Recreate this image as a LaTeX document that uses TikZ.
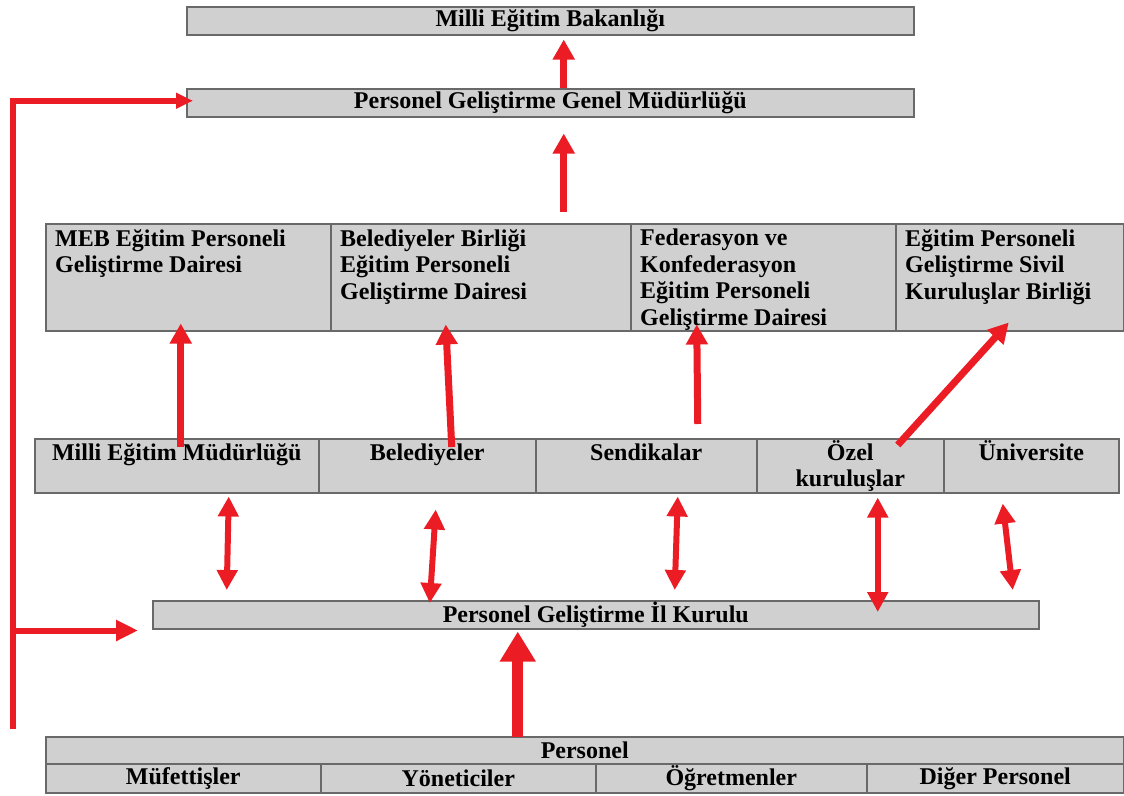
\documentclass[tikz,border=0pt]{standalone}
\usepackage{fontspec}
\setmainfont{Liberation Serif}
\usepackage{tikz}
\usetikzlibrary{arrows.meta,calc}

\definecolor{boxgray}{RGB}{208,208,208}
\definecolor{boxline}{RGB}{105,105,105}
\definecolor{arrowred}{RGB}{236,28,36}

\tikzset{
  cell/.style={draw=boxline, line width=1.5pt, fill=boxgray, anchor=north west,
    inner sep=0pt, font=\fontsize{24}{27}\selectfont\bfseries},
  celltext/.style={inner sep=0pt, align=left, font=\fontsize{24}{26.5}\selectfont\bfseries},
  up/.style={arrowred, line width=7pt, -{Triangle[width=21pt,length=20pt]}},
  both/.style={arrowred, line width=6pt,
    {Triangle[width=20pt,length=20pt]}-{Triangle[width=20pt,length=20pt]}},
  feed/.style={arrowred, line width=6pt},
}

\begin{document}
\begin{tikzpicture}[x=1pt, y=-1pt]
  \useasboundingbox (0,0) rectangle (1124,795);

  % top boxes
  \node[cell, minimum width=727pt, minimum height=28pt] (bak) at (186,6) {Milli Eğitim Bakanlığı};
  \node[cell, minimum width=727pt, minimum height=28pt] (pggm) at (186,88) {Personel Geliştirme Genel Müdürlüğü};

  % departments
  \node[cell, minimum width=285pt, minimum height=107pt] (dmeb) at (45,223) {};
  \node[cell, minimum width=300pt, minimum height=107pt] (dbel) at (330,223) {};
  \node[cell, minimum width=265pt, minimum height=107pt] (dfed) at (630,223) {};
  \node[cell, minimum width=228pt, minimum height=107pt] (dsiv) at (895,223) {};
  \node[celltext, anchor=north west] (dmeb-t) at ($(dmeb.north west)+(10,6)$) {MEB Eğitim Personeli\\Geliştirme Dairesi};
  \node[celltext, anchor=north west] (dbel-t) at ($(dbel.north west)+(10,6)$) {Belediyeler Birliği\\Eğitim Personeli\\Geliştirme Dairesi};
  \node[celltext, anchor=north west] (dfed-t) at ($(dfed.north west)+(10,6)$) {Federasyon ve\\Konfederasyon\\Eğitim Personeli\\Geliştirme Dairesi};
  \node[celltext, anchor=north west] (dsiv-t) at ($(dsiv.north west)+(10,6)$) {Eğitim Personeli\\Geliştirme Sivil\\Kuruluşlar Birliği};

  % local bodies
  \node[cell, minimum width=284pt, minimum height=54pt] (mem) at (34,438) {};
  \node[cell, minimum width=217pt, minimum height=54pt] (bel) at (318,438) {};
  \node[cell, minimum width=221pt, minimum height=54pt] (sen) at (535,438) {};
  \node[cell, minimum width=187pt, minimum height=54pt] (ozel) at (756,438) {};
  \node[cell, minimum width=175pt, minimum height=54pt] (uni) at (943,438) {};
  \node[celltext, anchor=north] (mem-t) at ($(mem.north)+(0,5.5)$) {Milli Eğitim Müdürlüğü};
  \node[celltext, anchor=north] (bel-t) at ($(bel.north)+(0,5.5)$) {Belediyeler};
  \node[celltext, anchor=north] (sen-t) at ($(sen.north)+(0,5.5)$) {Sendikalar};
  \node[celltext, anchor=north, align=center] (ozel-t) at ($(ozel.north)+(0,2)$) {Özel\\kuruluşlar};
  \node[celltext, anchor=north] (uni-t) at ($(uni.north)+(0,2)$) {Üniversite};

  % provincial board
  \node[cell, minimum width=886pt, minimum height=28pt] (ilk) at (152,600) {Personel Geliştirme İl Kurulu};

  % staff
  \node[cell, minimum width=1078pt, minimum height=27pt] (per) at (45,736) {Personel};
  \node[cell, minimum width=275pt, minimum height=29pt] (muf) at (45,763) {Müfettişler};
  \node[cell, minimum width=275pt, minimum height=29pt] (yon) at (320,763) {Yöneticiler};
  \node[cell, minimum width=271pt, minimum height=29pt] (ogr) at (595,763) {Öğretmenler};
  \node[cell, minimum width=257pt, minimum height=29pt] (dig) at (866,763) {Diğer Personel};

  % upward arrows
  \draw[up] ($(pggm.north)+(13.5,0)$) -- ($(bak.south)+(13.5,4)$);
  \draw[up] ($(dbel.north)+(83,-11)$) -- ($(pggm.south)+(13.5,16)$);
  \draw[up] ($(mem.north)+(4,9)$) -- ($(dmeb.south)+(-7.5,-8)$);
  \draw[up] ($(bel.north)+(24.5,9)$) -- ($(dbel.south)+(-35,-7)$);
  \draw[up] ($(sen.north)+(51.5,-14)$) -- ($(dfed.south)+(-66.5,-7)$);
  \draw[up] ($(ozel.north)+(47.5,7)$) -- ($(dsiv.south)+(-1,-9)$);
  \draw[up, line width=11pt, -{Triangle[width=34pt,length=30pt]}]
    ($(per.north)+(-67,1)$) -- ($(ilk.south)+(-78,2)$);

  % two-way arrows
  \draw[both] ($(mem.south)+(52,3)$) -- ($(mem.south |- ilk.north)+(50,-10)$);
  \draw[both] ($(bel.south)+(8.5,16)$) -- ($(bel.south |- ilk.north)+(2.5,3)$);
  \draw[both] ($(sen.south)+(31.5,3)$) -- ($(sen.south |- ilk.north)+(28.5,-10)$);
  \draw[both] ($(ozel.south)+(27.5,4)$) -- ($(ozel.south |- ilk.north)+(27.5,12)$);
  \draw[both] ($(uni.south)+(-28.5,10)$) -- ($(uni.south |- ilk.north)+(-18.5,-10)$);

  % feedback line
  \coordinate (root) at (13,729);
  \draw[feed, -{Triangle[width=15pt,length=17pt]}] (root) |- ($(pggm.west)+(7,-2)$);
  \draw[feed, -{Triangle[width=20pt,length=22pt]}] ($(root |- ilk.south)+(0,1)$) -- ($(ilk.south west)+(-14,1)$);
\end{tikzpicture}
\end{document}
